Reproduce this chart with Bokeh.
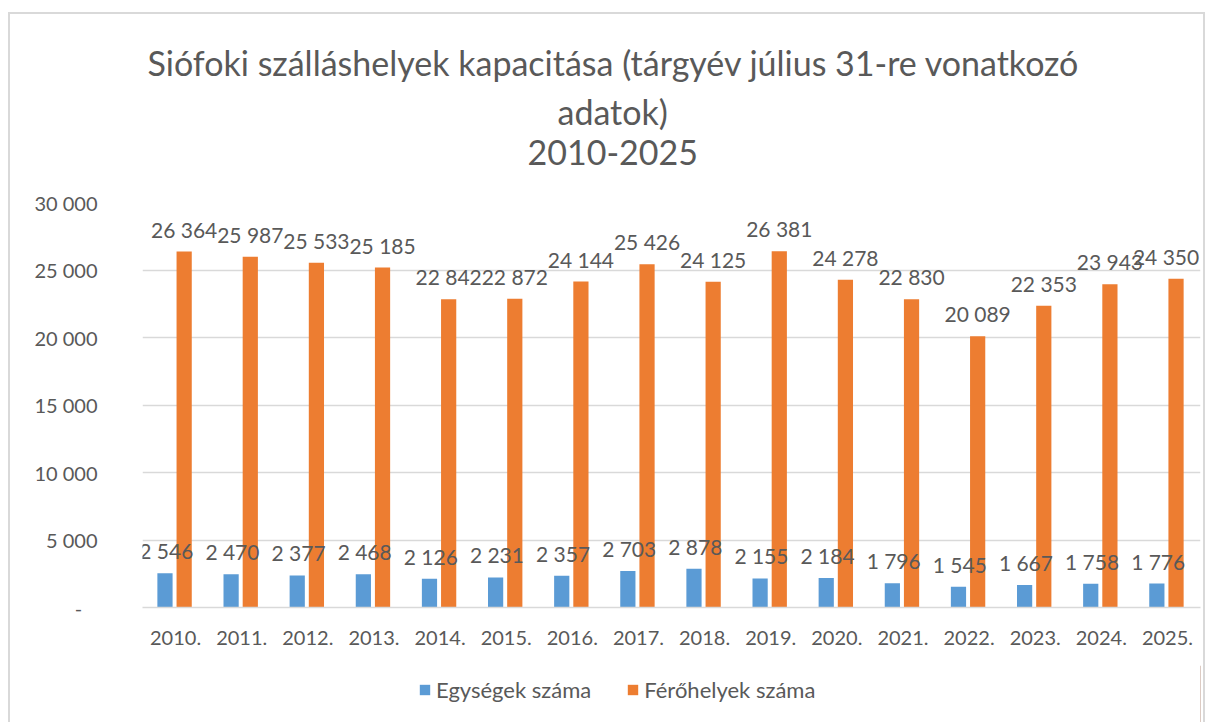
from bokeh.plotting import figure
from bokeh.models import (ColumnDataSource, FactorRange, FixedTicker, LabelSet, Title,
                          Legend, LegendItem, Range1d)
from bokeh.layouts import column
from bokeh.core.properties import value
from bokeh.transform import dodge
from bokeh.embed import file_html
from bokeh.resources import INLINE

years = ["2010.", "2011.", "2012.", "2013.", "2014.", "2015.", "2016.", "2017.",
         "2018.", "2019.", "2020.", "2021.", "2022.", "2023.", "2024.", "2025."]
egysegek = [2546, 2470, 2377, 2468, 2126, 2231, 2357, 2703, 2878, 2155, 2184, 1796,
            1545, 1667, 1758, 1776]
ferohelyek = [26364, 25987, 25533, 25185, 22842, 22872, 24144, 25426, 24125, 26381,
              24278, 22830, 20089, 22353, 23943, 24350]
y_ticks = [0, 5000, 10000, 15000, 20000, 25000, 30000]
y_tick_labels = ["-\u00a0\u00a0\u00a0", "5 000", "10 000", "15 000", "20 000", "25 000", "30 000"]
title_lines = ["Siófoki szálláshelyek kapacitása (tárgyév július 31-re vonatkozó",
               "adatok)", "2010-2025"]
series_names = ["Egységek száma", "Férőhelyek száma"]

FONT = "Lato"
TXT = "#595959"
BLUE = "#5b9bd5"
ORANGE = "#ed7d31"
GRID = "#d9d9d9"


def fmt(v):
    return f"{v:,}".replace(",", " ")


# keep the last orange label inside the plot frame
label_shift = [0] * (len(years) - 1) + [-10]

src = ColumnDataSource(dict(
    year=years, e=egysegek, f=ferohelyek,
    el=[fmt(v) for v in egysegek], fl=[fmt(v) for v in ferohelyek],
    e_dx=[0] * len(years), f_dx=label_shift,
))

p = figure(width=1197, height=653, x_range=FactorRange(*years, range_padding=0),
           y_range=Range1d(0, 30000), output_backend="svg", toolbar_location=None,
           min_border_left=132, min_border_right=7, min_border_top=188,
           min_border_bottom=60)
p.styles = {"border-top": "2px solid #d9d9d9", "border-left": "2px solid #d9d9d9",
            "border-right": "2px solid #d9d9d9", "margin-left": "8px", "margin-top": "12px"}
p.outline_line_color = None
p.background_fill_color = "white"
p.border_fill_color = "white"

p.vbar(x=dodge("year", -0.16, range=p.x_range), top="e", width=0.23, source=src,
       fill_color=BLUE, line_color=None)
p.vbar(x=dodge("year", 0.13, range=p.x_range), top="f", width=0.23, source=src,
       fill_color=ORANGE, line_color=None)

for xoff, col, lab, dx in [(-0.14, "e", "el", "e_dx"), (0.13, "f", "fl", "f_dx")]:
    ls = LabelSet(x=dodge("year", xoff, range=p.x_range), y=col, text=lab, source=src,
                  x_offset=dx, y_offset=14, text_align="center",
                  text_baseline="alphabetic", text_font=value(FONT),
                  text_font_size="21px", text_color=TXT)
    p.add_layout(ls)

p.yaxis.ticker = FixedTicker(ticks=y_ticks)
p.yaxis.major_label_overrides = {t: l for t, l in zip(y_ticks, y_tick_labels)}
p.yaxis.axis_line_color = None
p.yaxis.major_tick_line_color = None
p.yaxis.minor_tick_line_color = None
p.yaxis.major_tick_out = 0
p.yaxis.major_tick_in = 0
p.yaxis.major_label_standoff = 45
p.yaxis.major_label_text_font = FONT
p.yaxis.major_label_text_font_size = "20px"
p.yaxis.major_label_text_color = TXT

p.xaxis.axis_line_color = GRID
p.xaxis.axis_line_width = 1.5
p.xaxis.major_tick_line_color = None
p.xaxis.minor_tick_line_color = None
p.xaxis.major_tick_out = 0
p.xaxis.major_tick_in = 0
p.xaxis.major_label_standoff = 23
p.xaxis.major_label_text_font = FONT
p.xaxis.major_label_text_font_size = "20px"
p.xaxis.major_label_text_color = TXT

p.xgrid.grid_line_color = None
p.ygrid.grid_line_color = GRID
p.ygrid.grid_line_width = 1.5

# spacer between frame and title block
p.add_layout(Title(text=" ", text_font_size="30px", standoff=0), "above")
for t, off, so in zip(reversed(title_lines), [385, 415, 5], [6, 6, 6]):
    p.add_layout(Title(text=t, align="left", offset=off, text_font=FONT,
                       text_font_size="34px", text_font_style="normal",
                       text_color=TXT, standoff=so), "above")

# legend strip below the chart
lf = figure(width=1197, height=60, x_range=Range1d(0, 1), y_range=Range1d(0, 1),
            output_backend="svg", toolbar_location=None,
            min_border_left=132, min_border_right=7,
            min_border_top=0, min_border_bottom=0)
lf.styles = {"border-left": "2px solid #d9d9d9", "border-right": "2px solid #d9d9d9",
             "margin-left": "8px"}
lf.axis.visible = False
lf.grid.visible = False
lf.outline_line_color = None
lf.border_fill_color = "white"
lf.background_fill_color = "white"
rb = lf.vbar(x=[5], top=[5], width=0.1, fill_color=BLUE, line_color=None)
ro = lf.vbar(x=[5], top=[5], width=0.1, fill_color=ORANGE, line_color=None)
legend = Legend(items=[LegendItem(label=series_names[0], renderers=[rb]),
                       LegendItem(label=series_names[1], renderers=[ro])],
                orientation="horizontal", location=(276, 22), padding=0, margin=0,
                spacing=35, label_standoff=5, glyph_width=13, glyph_height=13,
                label_text_font=FONT, label_text_font_size="22px",
                label_text_color=TXT, border_line_color=None,
                background_fill_alpha=0)
lf.add_layout(legend, "center")

layout = column(p, lf, spacing=0)
open("out.html", "w").write(file_html(layout, INLINE))
